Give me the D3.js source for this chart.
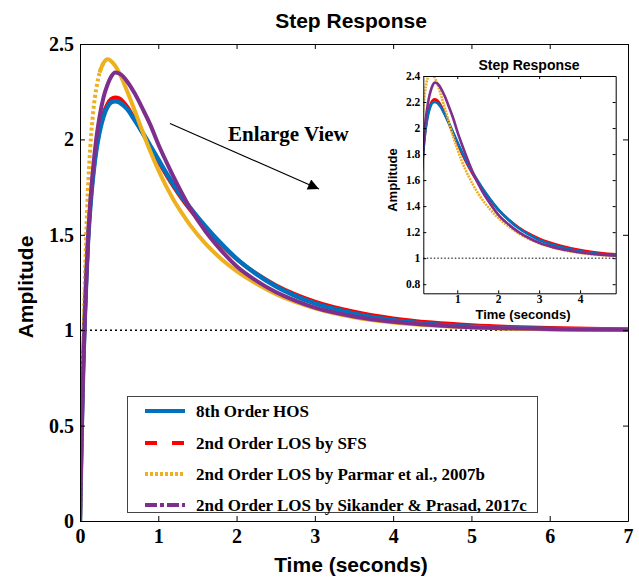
<!DOCTYPE html>
<html>
<head>
<meta charset="utf-8">
<script src="https://cdn.jsdelivr.net/npm/d3@7/dist/d3.min.js"></script>
<style>
  html, body { margin: 0; padding: 0; background: #fff; }
  svg { display: block; }
</style>
</head>
<body>
<svg id="chart" width="639" height="579"></svg>
<script>
// Sample times (s) shared by all step responses
const time = [0, 0.02, 0.04, 0.06, 0.08, 0.10, 0.13, 0.17, 0.21, 0.25, 0.30, 0.35, 0.40, 0.45, 0.50, 0.55, 0.60, 0.70, 0.80, 0.90,
  1.0, 1.1, 1.2, 1.3, 1.4, 1.6, 1.8, 2.0, 2.25, 2.5, 2.75, 3.0, 3.5, 4.0, 4.5, 5.0, 5.5, 6.0, 7.0];

// Amplitudes of each model's unit step response
const hos8 = [0, 0.45, 0.80, 1.06, 1.27, 1.45, 1.64, 1.82, 1.95, 2.04, 2.12, 2.17, 2.195, 2.20, 2.195, 2.18, 2.16, 2.10, 2.035, 1.965,
  1.895, 1.825, 1.76, 1.70, 1.645, 1.545, 1.455, 1.375, 1.295, 1.23, 1.18, 1.14, 1.087, 1.052, 1.031, 1.018, 1.011, 1.006, 1.002];
const losSFS = [0, 0.45, 0.80, 1.06, 1.27, 1.45, 1.645, 1.825, 1.955, 2.05, 2.135, 2.185, 2.212, 2.22, 2.215, 2.198, 2.173, 2.105, 2.033, 1.958,
  1.885, 1.815, 1.75, 1.69, 1.635, 1.537, 1.45, 1.373, 1.297, 1.236, 1.188, 1.15, 1.097, 1.062, 1.040, 1.026, 1.017, 1.011, 1.004];
const losParmar = [0, 0.48, 0.88, 1.22, 1.50, 1.72, 1.95, 2.15, 2.27, 2.35, 2.40, 2.42, 2.41, 2.385, 2.35, 2.305, 2.255, 2.15, 2.04, 1.935,
  1.84, 1.755, 1.68, 1.615, 1.555, 1.455, 1.375, 1.31, 1.245, 1.19, 1.148, 1.115, 1.068, 1.040, 1.024, 1.014, 1.008, 1.005, 1.001];
const losSikander = [0, 0.42, 0.78, 1.04, 1.26, 1.45, 1.66, 1.86, 2.01, 2.12, 2.22, 2.285, 2.33, 2.35, 2.345, 2.33, 2.305, 2.24, 2.16, 2.075,
  1.975, 1.885, 1.80, 1.72, 1.645, 1.52, 1.42, 1.335, 1.26, 1.20, 1.155, 1.118, 1.072, 1.044, 1.027, 1.016, 1.010, 1.006, 1.002];

const seriesNames = ["8th Order HOS", "2nd Order LOS by SFS", "2nd Order LOS by Parmar et al., 2007b", "2nd Order LOS by Sikander & Prasad, 2017c"];
const seriesColors = ["#0072BD", "#FF0000", "#EDB120", "#7E2F8E"];
const legendDash = [null, "12,15", "3,2", "12,3,4,3"];
// stacking order of the curves (SFS under HOS)
const drawOrder = [1, 0, 2, 3];

// Axis ticks
const xTicks = [0, 1, 2, 3, 4, 5, 6, 7];
const yTicks = [0, 0.5, 1, 1.5, 2, 2.5];
const insetXTicks = [1, 2, 3, 4];
const insetYTicks = [0.8, 1, 1.2, 1.4, 1.6, 1.8, 2, 2.2, 2.4];
const steadyState = 1;

const serif = "'Liberation Serif', 'Times New Roman', serif";
const sans = "'Liberation Sans', Arial, sans-serif";

const svg = d3.select("#chart");
const series = [hos8, losSFS, losParmar, losSikander].map((vals, i) => ({
  idx: i, name: seriesNames[i], color: seriesColors[i], dash: legendDash[i],
  points: vals.map((v, k) => [time[k], v])
}));
const ordered = drawOrder.map(i => series[i]);

// ---------- main axes ----------
const x = d3.scaleLinear().domain([0, 7]).range([80, 628]);
const y = d3.scaleLinear().domain([0, 2.5]).range([521, 44]);

svg.append("defs").append("clipPath").attr("id", "mainClip")
  .append("rect").attr("x", 80).attr("y", 44).attr("width", 548).attr("height", 477);

svg.append("text").attr("x", 351).attr("y", 28).attr("text-anchor", "middle")
  .style("font", `bold 21px ${sans}`).text("Step Response");

const plot = svg.append("g").attr("clip-path", "url(#mainClip)");

plot.append("line")
  .attr("x1", x(0)).attr("x2", x(7)).attr("y1", y(steadyState)).attr("y2", y(steadyState))
  .attr("stroke", "#000").attr("stroke-width", 1.6).attr("stroke-dasharray", "2,3");

const line = d3.line().x(d => x(d[0])).y(d => y(d[1])).curve(d3.curveMonotoneX);
ordered.forEach(s => {
  if (s.idx === 2) {
    // rising edge dotted, rest dense
    plot.append("path").attr("d", line(s.points.filter(p => p[0] <= 0.3)))
      .attr("fill", "none").attr("stroke", s.color).attr("stroke-width", 4)
      .attr("stroke-dasharray", "3,2.5");
    plot.append("path").attr("d", line(s.points.filter(p => p[0] >= 0.25)))
      .attr("fill", "none").attr("stroke", s.color).attr("stroke-width", 4);
  } else {
    plot.append("path").attr("d", line(s.points))
      .attr("fill", "none").attr("stroke", s.color).attr("stroke-width", s.idx === 0 ? 4.5 : 4);
  }
});

function styleAxis(g, size) {
  g.selectAll("text").style("font", `bold ${size}px ${serif}`).attr("fill", "#000");
  g.selectAll("line").attr("stroke", "#000");
  g.select(".domain").attr("stroke", "#000");
}

svg.append("g").attr("transform", "translate(0,521)")
  .call(d3.axisBottom(x).tickValues(xTicks).tickSize(-5).tickSizeOuter(0).tickPadding(8).tickFormat(d3.format("d")))
  .call(g => styleAxis(g, 20));
svg.append("g").attr("transform", "translate(80,0)")
  .call(d3.axisLeft(y).tickValues(yTicks).tickSize(-5).tickSizeOuter(0).tickPadding(6).tickFormat(d => String(d)))
  .call(g => styleAxis(g, 20));
svg.append("g").attr("transform", "translate(0,44)")
  .call(d3.axisTop(x).tickValues(xTicks).tickSize(-5).tickSizeOuter(0).tickFormat(""))
  .call(g => styleAxis(g, 20));
svg.append("g").attr("transform", "translate(628,0)")
  .call(d3.axisRight(y).tickValues(yTicks).tickSize(-5).tickSizeOuter(0).tickFormat(""))
  .call(g => styleAxis(g, 20));

svg.append("text").attr("x", 351).attr("y", 572).attr("text-anchor", "middle")
  .style("font", `bold 21px ${sans}`).text("Time (seconds)");
svg.append("text").attr("transform", "translate(33,287) rotate(-90)").attr("text-anchor", "middle")
  .style("font", `bold 21px ${sans}`).text("Amplitude");

// ---------- annotation ----------
svg.append("defs").append("marker").attr("id", "arrowHead")
  .attr("viewBox", "0 0 10 10").attr("refX", 10).attr("refY", 5)
  .attr("markerWidth", 16).attr("markerHeight", 11).attr("markerUnits", "userSpaceOnUse")
  .attr("orient", "auto")
  .append("path").attr("d", "M0,0L10,5L0,10Z").attr("fill", "#000");
svg.append("line").attr("x1", 170).attr("y1", 123.5).attr("x2", 319).attr("y2", 189)
  .attr("stroke", "#000").attr("stroke-width", 1.1).attr("marker-end", "url(#arrowHead)");
svg.append("text").attr("x", 228).attr("y", 141).style("font", `bold 21px ${serif}`).text("Enlarge View");

// ---------- legend ----------
const leg = svg.append("g");
leg.append("rect").attr("x", 127.5).attr("y", 396.5).attr("width", 410).attr("height", 116)
  .attr("fill", "#fff").attr("stroke", "#444").attr("stroke-width", 1);
const rowY = [411, 443, 474, 505];
series.forEach((s, i) => {
  leg.append("line").attr("x1", 145).attr("x2", 185).attr("y1", rowY[i]).attr("y2", rowY[i])
    .attr("stroke", s.color).attr("stroke-width", 4)
    .attr("stroke-dasharray", s.dash);
  leg.append("text").attr("x", 196).attr("y", rowY[i]).attr("dy", "0.35em")
    .style("font", `bold 17px ${serif}`).text(s.name);
});

// ---------- inset (enlarged view) ----------
const xi = d3.scaleLinear().domain([0.17, 4.87]).range([423.3, 615.7]);
const yi = d3.scaleLinear().domain([0.73, 2.4]).range([293.3, 76]);

const inset = svg.append("g");
inset.append("rect").attr("x", xi.range()[0]).attr("y", yi.range()[1])
  .attr("width", xi.range()[1] - xi.range()[0]).attr("height", yi.range()[0] - yi.range()[1])
  .attr("fill", "#fff");
svg.select("defs").append("clipPath").attr("id", "insetClip")
  .append("rect").attr("x", xi.range()[0]).attr("y", yi.range()[1])
  .attr("width", xi.range()[1] - xi.range()[0]).attr("height", yi.range()[0] - yi.range()[1]);

const insetPlot = inset.append("g").attr("clip-path", "url(#insetClip)");
insetPlot.append("line")
  .attr("x1", xi.range()[0]).attr("x2", xi.range()[1]).attr("y1", yi(steadyState)).attr("y2", yi(steadyState))
  .attr("stroke", "#000").attr("stroke-width", 1).attr("stroke-dasharray", "1.5,2");
const lineI = d3.line().x(d => xi(d[0])).y(d => yi(d[1])).curve(d3.curveMonotoneX);
ordered.forEach(s => {
  insetPlot.append("path").attr("d", lineI(s.points))
    .attr("fill", "none").attr("stroke", s.color).attr("stroke-width", 2.6)
    .attr("stroke-dasharray", s.idx === 2 ? "2,1" : null);
});

inset.append("g").attr("transform", `translate(0,${yi.range()[0]})`)
  .call(d3.axisBottom(xi).tickValues(insetXTicks).tickSize(-3).tickSizeOuter(0).tickPadding(1.5).tickFormat(d3.format("d")))
  .call(g => styleAxis(g, 11.5));
inset.append("g").attr("transform", `translate(${xi.range()[0]},0)`)
  .call(d3.axisLeft(yi).tickValues(insetYTicks).tickSize(-3).tickSizeOuter(0).tickPadding(3).tickFormat(d => String(d)))
  .call(g => styleAxis(g, 11.5));
inset.append("g").attr("transform", `translate(0,${yi.range()[1]})`)
  .call(d3.axisTop(xi).tickValues(insetXTicks).tickSize(-3).tickSizeOuter(0).tickFormat(""))
  .call(g => styleAxis(g, 11.5));
inset.append("g").attr("transform", `translate(${xi.range()[1]},0)`)
  .call(d3.axisRight(yi).tickValues(insetYTicks).tickSize(-3).tickSizeOuter(0).tickFormat(""))
  .call(g => styleAxis(g, 11.5));

inset.append("text").attr("x", 529).attr("y", 69.5).attr("text-anchor", "middle")
  .style("font", `bold 14px ${sans}`).text("Step Response");
inset.append("text").attr("x", 523).attr("y", 319).attr("text-anchor", "middle")
  .style("font", `bold 13px ${sans}`).text("Time (seconds)");
inset.append("text").attr("transform", "translate(397,180) rotate(-90)").attr("text-anchor", "middle")
  .style("font", `bold 13px ${sans}`).text("Amplitude");
</script>
</body>
</html>
